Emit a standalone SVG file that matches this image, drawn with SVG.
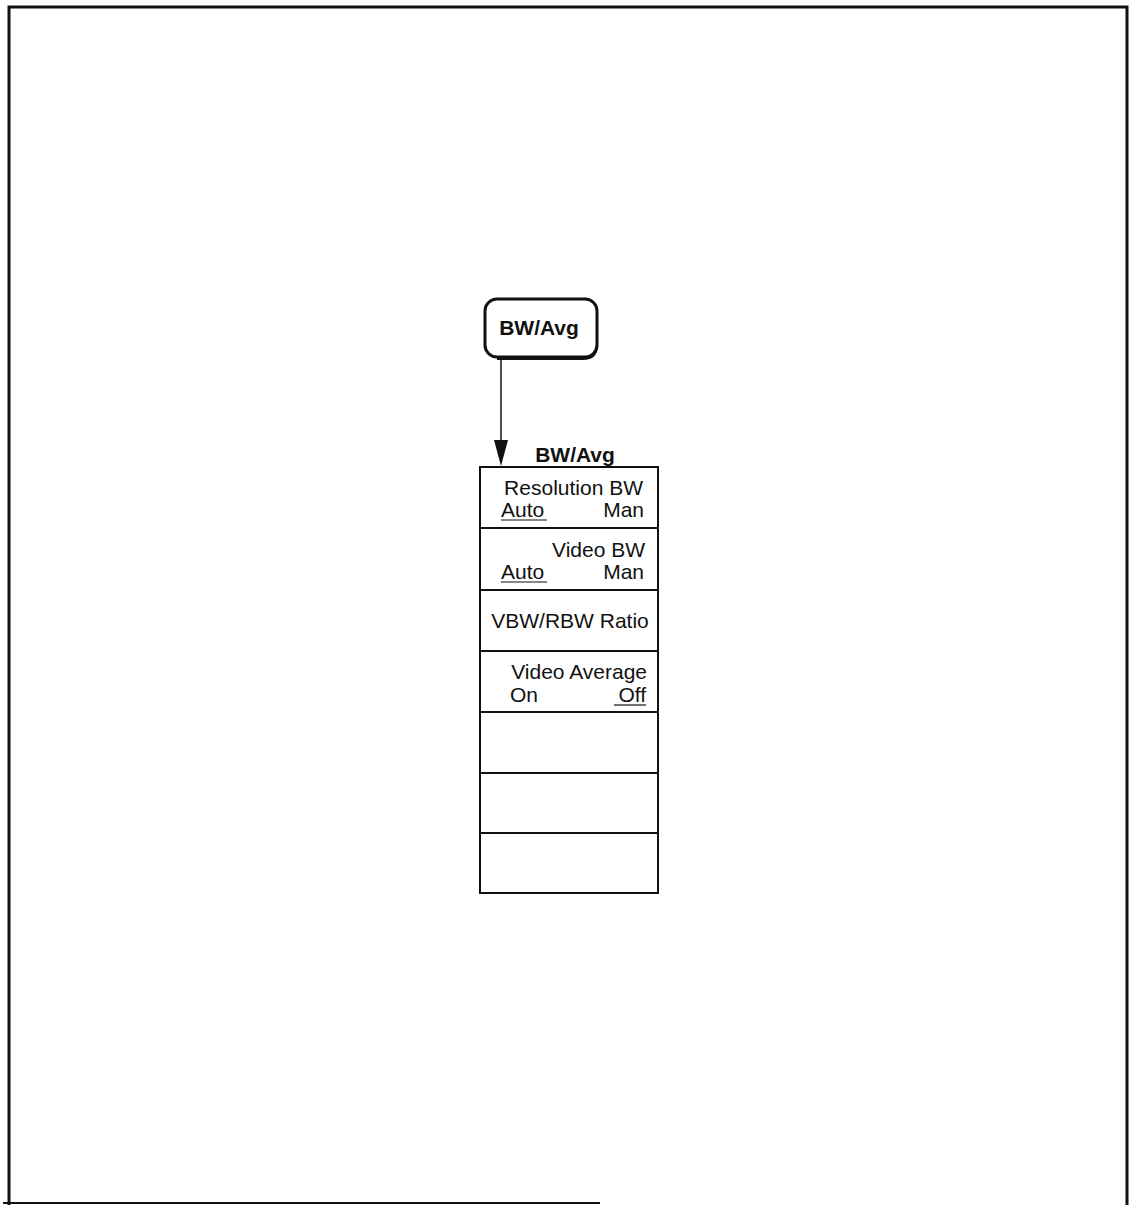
<svg xmlns="http://www.w3.org/2000/svg" width="1133" height="1205" viewBox="0 0 1133 1205">
<style>
.t{font-family:"Liberation Sans",Arial,sans-serif;font-size:21px;fill:#111}
.b{font-weight:bold}
.ln{stroke:#111;fill:none}
</style>
<rect width="1133" height="1205" fill="#fff"/>
<g id="frame">
<path class="ln" stroke-width="3" d="M9,1205 V7 H1127 V1205"/>
<path class="ln" stroke-width="2" stroke="#555" d="M3,1203 H600"/>
</g>
<g id="key-bwavg">
<rect x="485" y="299" width="112" height="58" rx="12" fill="#fff" stroke="#111" stroke-width="3"/>
<path class="ln" stroke-width="2" d="M597,312 V345 Q597,359 583,359 H497"/>
<text class="t b" x="539" y="335" text-anchor="middle" font-size="21.5">BW/Avg</text>
</g>
<g id="connectors">
<line class="ln" stroke-width="1.5" x1="501" y1="359" x2="501" y2="442"/>
<polygon points="494,440 508,440 501,466" fill="#111"/>
</g>
<g id="menu-bwavg">
<text class="t b" x="575" y="462" text-anchor="middle" font-size="20">BW/Avg</text>
<rect x="480" y="467" width="178" height="426" fill="#fff" stroke="#111" stroke-width="2"/>
<path class="ln" stroke-width="2" d="M480,528 H658 M480,590 H658 M480,651 H658 M480,712 H658 M480,773 H658 M480,833 H658"/>
<g id="sk-resbw">
<text class="t" x="643" y="495" text-anchor="end">Resolution BW</text>
<text class="t" x="501" y="517">Auto</text>
<line class="ln" stroke-width="1.2" x1="501" y1="520" x2="547" y2="520"/>
<text class="t" x="644" y="517" text-anchor="end">Man</text>
</g>
<g id="sk-vidbw">
<text class="t" x="645" y="557" text-anchor="end">Video BW</text>
<text class="t" x="501" y="579">Auto</text>
<line class="ln" stroke-width="1.2" x1="501" y1="582" x2="547" y2="582"/>
<text class="t" x="644" y="579" text-anchor="end">Man</text>
</g>
<g id="sk-ratio">
<text class="t" x="570" y="628" text-anchor="middle">VBW/RBW Ratio</text>
</g>
<g id="sk-vidavg">
<text class="t" x="647" y="679" text-anchor="end">Video Average</text>
<text class="t" x="510" y="702">On</text>
<text class="t" x="646" y="702" text-anchor="end">Off</text>
<line class="ln" stroke-width="1.2" x1="614" y1="705" x2="646" y2="705"/>
</g>
</g>
</svg>
